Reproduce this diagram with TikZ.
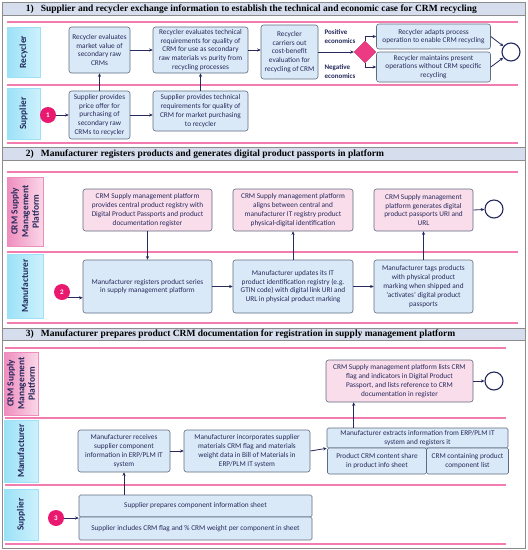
\documentclass[tikz,border=0pt]{standalone}
\usepackage{fontspec}
\setmainfont{Liberation Serif}
\setsansfont{Carlito}
\usetikzlibrary{arrows.meta,shapes.geometric}

\definecolor{navy}{HTML}{262A5C}
\definecolor{boxline}{HTML}{5F6B80}
\definecolor{boxfill}{HTML}{DAE9F7}
\definecolor{platfill}{HTML}{F9DDEB}
\definecolor{hdrfill}{HTML}{D6DEEE}
\definecolor{frame}{HTML}{8C8C8C}
\definecolor{rule}{HTML}{F27BB0}
\definecolor{cyanlight}{HTML}{CDF1FC}
\definecolor{cyandark}{HTML}{9CE1F7}
\definecolor{pinklight}{HTML}{FAD8E8}
\definecolor{pinkdark}{HTML}{EF8CBE}
\definecolor{startpink}{HTML}{E8196F}
\definecolor{gatepink}{HTML}{EC3B82}

\tikzset{
  stepbox/.style={draw=boxline, fill=boxfill, rounded corners=2.5pt, line width=0.6pt,
    align=center, inner sep=1pt, text=navy, font=\sffamily\fontsize{7.3}{8.8}\selectfont},
  platbox/.style={stepbox, fill=platfill},
  flatbox/.style={stepbox, rounded corners=1.5pt},
  lanecyan/.style={draw=cyandark, left color=cyandark, right color=cyanlight, rotate=90,
    inner sep=0pt, align=center, text=navy, font=\sffamily\bfseries\fontsize{9.4}{10.6}\selectfont},
  lanepink/.style={lanecyan, draw=pinkdark, left color=pinkdark, right color=pinklight},
  hdrbar/.style={draw=frame, fill=hdrfill, line width=0.6pt, minimum width=523, inner sep=0pt},
  hdrtext/.style={anchor=west, inner sep=0pt, text=black, font=\rmfamily\bfseries\fontsize{9.5}{10}\selectfont},
  startdot/.style={circle, fill=startpink, minimum size=16, inner sep=0pt, text=white,
    font=\sffamily\bfseries\fontsize{7}{7}\selectfont},
  enddot/.style={circle, draw=navy, fill=white, line width=1.1pt, minimum size=18, inner sep=0pt},
  gate/.style={diamond, fill=gatepink, draw=gatepink!85!black, line width=0.3pt, minimum width=22, minimum height=22, inner sep=0pt},
  caselabel/.style={align=left, inner sep=0pt, text=navy, font=\sffamily\bfseries\fontsize{7}{8.4}\selectfont},
  flow/.style={draw=navy, line width=0.8pt, -{Stealth[length=3.6pt,width=3.2pt]}},
  lanerule/.style={draw=rule, line width=1.1pt}
}

\begin{document}
\begin{tikzpicture}[x=1pt,y=-1pt]
  \useasboundingbox (0,0) rectangle (528,550);
  \draw[frame, line width=0.7pt] (2,2) rectangle (525,548);

  \node[hdrbar, minimum height=13.5] (h1) at (263.5,9) {};
  \node[hdrtext] (t1) at ([xshift=24pt]h1.west) {1)\hspace{7pt}Supplier and recycler exchange information to establish the technical and economic case for CRM recycling};
  \node[hdrbar, minimum height=12.5] (h2) at (263.5,154) {};
  \node[hdrtext] (t2) at ([xshift=24pt]h2.west) {2)\hspace{7pt}Manufacturer registers products and generates digital product passports in platform};
  \node[hdrbar, minimum height=12] (h3) at (263.5,334.5) {};
  \node[hdrtext] (t3) at ([xshift=24pt]h3.west) {3)\hspace{7pt}Manufacturer prepares product CRM documentation for registration in supply management platform};

  \foreach \y in {22,85,143,172,252,323}
    \draw[lanerule] (7,\y) -- (518,\y);
  \foreach \y in {348,418,485,544}
    \draw[lanerule] (5,\y) -- (506,\y);

  \node[lanecyan, minimum width=50, minimum height=33] (recycler) at (23.5,52) {Recycler};
  \node[lanecyan, minimum width=51, minimum height=33] (supplier) at (23.5,113.5) {Supplier};

  \node[stepbox, minimum width=61, minimum height=46] (r1) at (99.5,50) {Recycler evaluates\\market value of\\secondary raw\\CRMs};
  \node[stepbox, minimum width=95, minimum height=46] (r2) at (200.5,50) {Recycler evaluates technical\\requirements for quality of\\CRM for use as secondary\\raw materials vs purity from\\recycling processes};
  \node[stepbox, minimum width=57, minimum height=54] (r3) at (289.5,52) {Recycler\\carriers out\\cost-benefit\\evaluation for\\recycling of CRM};
  \node[gate] (gate) at (365,52) {};
  \node[stepbox, minimum width=114, minimum height=25] (r4) at (433.5,36.5) {Recycler adapts process\\operation to enable CRM recycling};
  \node[stepbox, minimum width=114, minimum height=30] (r5) at (433.5,67) {Recycler maintains present\\operations without CRM specific\\recycling};
  \node[enddot] (end1) at (511,52) {};
  \node[caselabel] (pos) at (340,36.5) {Positive\\economics};
  \node[caselabel] (neg) at (340,71.5) {Negative\\economics};

  \node[startdot] (c1) at (48,115) {1};
  \node[stepbox, minimum width=61, minimum height=48] (s1) at (99.5,115) {Supplier provides\\price offer for\\purchasing of\\secondary raw\\CRMs to recycler};
  \node[stepbox, minimum width=95, minimum height=40] (s2) at (200.5,111) {Supplier provides technical\\requirements for quality of\\CRM for market purchasing\\to recycler};

  \draw[flow] (c1) -- (s1);
  \draw[flow] (s1.east) -- (s1.east -| s2.west);
  \draw[flow] (s1.north) -- (r1.south);
  \draw[flow] (s2.north) -- (r2.south);
  \draw[flow] (r1) -- (r2);
  \draw[flow] (r2.east) -- (r2.east -| r3.west);
  \draw[flow] (r3.east) -- (gate.west);
  \draw[flow] (gate.north) |- (r4.west);
  \draw[flow] (gate.south) |- (r5.west);
  \draw[flow] (r4.east) -- (end1);
  \draw[flow] (r5.east) -- (end1);

  \node[lanepink, minimum width=69, minimum height=36] (platform2) at (25,211.5) {CRM Supply\\Management\\Platform};
  \node[lanecyan, minimum width=64, minimum height=36] (maker2) at (25,286) {Manufacturer};

  \node[platbox, minimum width=129, minimum height=42] (p1) at (147.5,210) {CRM Supply management platform\\provides central product registry with\\Digital Product Passports and product\\documentation register};
  \node[platbox, minimum width=120, minimum height=42] (p2) at (293,210) {CRM Supply management platform\\aligns between central and\\manufacturer IT registry product\\physical-digital identification};
  \node[platbox, minimum width=99, minimum height=42] (p3) at (423.5,210) {CRM Supply management\\platform generates digital\\product passports URI and\\URL};
  \node[enddot] (end2) at (494,209) {};

  \node[startdot] (c2) at (62,292) {2};
  \node[stepbox, minimum width=129, minimum height=53] (m1) at (147.5,286.5) {Manufacturer registers product series\\in supply management platform};
  \node[stepbox, minimum width=120, minimum height=53] (m2) at (293,286.5) {Manufacturer updates its IT\\product identification registry (e.g.\\GTIN code) with digital link URI and\\URL in physical product marking};
  \node[stepbox, minimum width=99, minimum height=53] (m3) at (423.5,286.5) {Manufacturer tags products\\with physical product\\marking when shipped and\\`activates' digital product\\passports};

  \draw[flow] (c2.south east) -- (c2.south east -| m1.west);
  \draw[flow] (p1.south) -- (m1.north);
  \draw[flow] (m1) -- (m2);
  \draw[flow] (m2) -- (m3);
  \draw[flow] (m2.north) -- (p2.south);
  \draw[flow] (m3.north) -- (p3.south);
  \draw[flow] (p3.east) -- (end2);

  \node[lanepink, minimum width=63, minimum height=34] (platform3) at (21,383.5) {CRM Supply\\Management\\Platform};
  \node[lanecyan, minimum width=62, minimum height=34] (maker3) at (21,451) {Manufacturer};
  \node[lanecyan, minimum width=51, minimum height=34] (supplier3) at (21,514.5) {Supplier};

  \node[platbox, minimum width=147, minimum height=42] (pl) at (399.5,381) {CRM Supply management platform lists CRM\\flag and indicators in Digital Product\\Passport, and lists reference to CRM\\documentation in register};
  \node[enddot] (end3) at (494,381) {};

  \node[stepbox, minimum width=92, minimum height=42] (ma) at (124,451) {Manufacturer receives\\supplier component\\information in ERP/PLM IT\\system};
  \node[stepbox, minimum width=126, minimum height=42] (mb) at (247,451) {Manufacturer incorporates supplier\\materials CRM flag and materials\\weight data in Bill of Materials in\\ERP/PLM IT system};
  \node[flatbox, minimum width=181, minimum height=20] (mc) at (417.5,438) {Manufacturer extracts information from ERP/PLM IT\\system and registers it};
  \node[flatbox, minimum width=99, minimum height=26] (md) at (377,461) {Product CRM content share\\in product info sheet};
  \node[flatbox, minimum width=82, minimum height=26] (me) at (467.5,461) {CRM containing product\\component list};

  \node[startdot] (c3) at (56,518) {3};
  \node[flatbox, minimum width=233, minimum height=22] (sa) at (195.5,506) {Supplier prepares component information sheet};
  \node[flatbox, minimum width=233, minimum height=23] (sb) at (195.5,528.5) {Supplier includes CRM flag and \% CRM weight per component in sheet};

  \coordinate (mcup) at ([xshift=27pt]mc.north west);
  \draw[flow] (c3) -- (c3 -| sb.west);
  \draw[flow] (sa.north -| ma) -- (ma.south);
  \draw[flow] (ma) -- (mb);
  \draw[flow] (mb.east) -- (mc.south west);
  \draw[flow] (mcup) -- (mcup |- pl.south);
  \draw[flow] (pl.east) -- (end3);
\end{tikzpicture}
\end{document}
